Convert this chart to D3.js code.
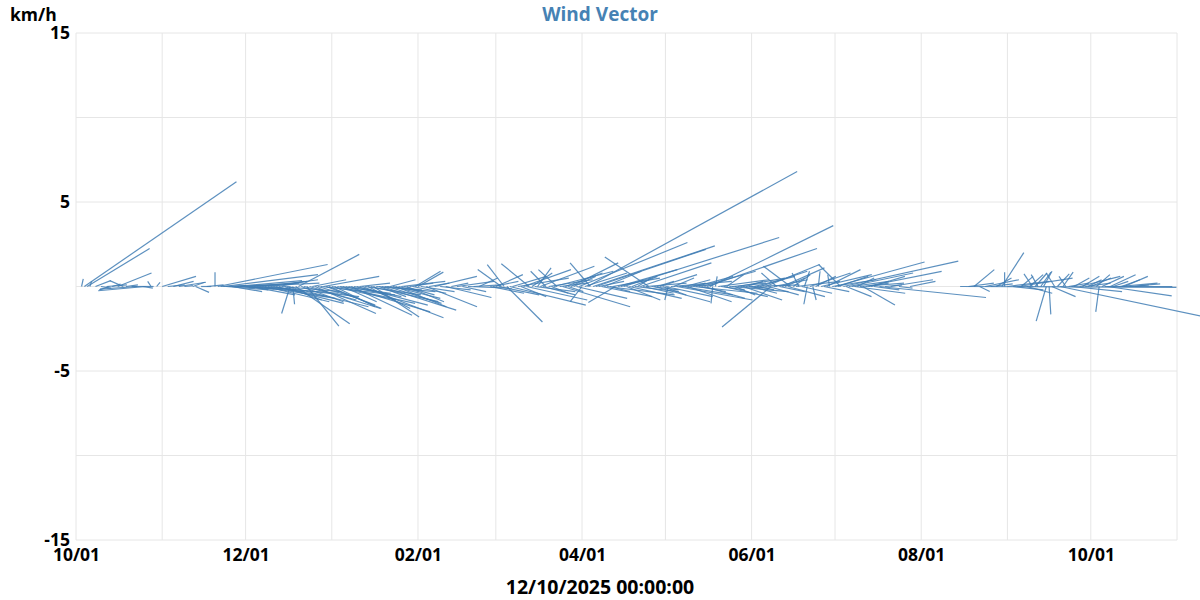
<!DOCTYPE html>
<html><head><meta charset="utf-8">
<script src="https://cdn.jsdelivr.net/npm/d3@7"></script>
<style>
html,body{margin:0;padding:0;background:#fff;}
svg text{font-family:"Open Sans","Noto Sans",sans-serif;font-weight:700;}
</style></head>
<body><svg id="chart" width="1200" height="600"></svg>
<script>
// ---- data ----
const titleText = "Wind Vector";
const unitLabel = "km/h";
const xAxisTitle = "12/10/2025 00:00:00";
const yTickValues = [-15, -10, -5, 0, 5, 10, 15];
const yTickLabels = {"15":"15","5":"5","-5":"-5","-15":"-15"};
const xDomain = ["2024-10-01", "2025-11-01"];
const xLabelFormat = "%m/%d";

const dates = [
"2024-10-03","2024-10-04","2024-10-05","2024-10-06","2024-10-08","2024-10-10","2024-10-12","2024-10-13","2024-10-14","2024-10-16",
"2024-10-18","2024-10-19","2024-10-21","2024-10-23","2024-10-25","2024-10-26","2024-10-28","2024-10-30",
"2024-11-01","2024-11-03","2024-11-05","2024-11-07","2024-11-09","2024-11-12","2024-11-13","2024-11-15","2024-11-17","2024-11-20",
"2024-11-21","2024-11-22","2024-11-23","2024-11-24","2024-11-25","2024-11-26","2024-11-27","2024-11-28","2024-11-29","2024-11-30",
"2024-12-01","2024-12-02","2024-12-03","2024-12-04","2024-12-05","2024-12-06","2024-12-07","2024-12-08","2024-12-09","2024-12-10",
"2024-12-11","2024-12-12","2024-12-13","2024-12-14","2024-12-15","2024-12-16","2024-12-17","2024-12-18","2024-12-19","2024-12-20",
"2024-12-21","2024-12-22","2024-12-23","2024-12-24","2024-12-25","2024-12-26","2024-12-27","2024-12-28","2024-12-29","2024-12-30","2024-12-31",
"2025-01-01","2025-01-02","2025-01-03","2025-01-04","2025-01-05","2025-01-06","2025-01-07","2025-01-08","2025-01-09","2025-01-10",
"2025-01-11","2025-01-12","2025-01-13","2025-01-14","2025-01-15","2025-01-16","2025-01-17","2025-01-18","2025-01-19","2025-01-20",
"2025-01-21","2025-01-22","2025-01-23","2025-01-24","2025-01-25","2025-01-26","2025-01-27","2025-01-28","2025-01-29","2025-01-30","2025-01-31",
"2025-02-01","2025-02-02","2025-02-04","2025-02-05","2025-02-07","2025-02-09","2025-02-11","2025-02-13","2025-02-15","2025-02-17",
"2025-02-19","2025-02-21","2025-02-23","2025-02-27","2025-02-28",
"2025-03-01","2025-03-02","2025-03-03","2025-03-04","2025-03-05","2025-03-06","2025-03-07","2025-03-09","2025-03-10","2025-03-11",
"2025-03-12","2025-03-13","2025-03-14","2025-03-15","2025-03-16","2025-03-17","2025-03-18","2025-03-19","2025-03-20","2025-03-21",
"2025-03-22","2025-03-23","2025-03-24","2025-03-25","2025-03-26","2025-03-27","2025-03-28","2025-03-29","2025-03-30","2025-03-31",
"2025-04-01","2025-04-02","2025-04-03","2025-04-04","2025-04-05","2025-04-06","2025-04-07","2025-04-08","2025-04-09","2025-04-10",
"2025-04-11","2025-04-12","2025-04-13","2025-04-14","2025-04-15","2025-04-16","2025-04-17","2025-04-18","2025-04-19","2025-04-20",
"2025-04-21","2025-04-22","2025-04-23","2025-04-24","2025-04-25","2025-04-26","2025-04-27","2025-04-28","2025-04-29","2025-04-30",
"2025-05-01","2025-05-02","2025-05-03","2025-05-04","2025-05-05","2025-05-06","2025-05-07","2025-05-08","2025-05-09","2025-05-10",
"2025-05-11","2025-05-12","2025-05-13","2025-05-14","2025-05-15","2025-05-16","2025-05-17","2025-05-18","2025-05-19","2025-05-20",
"2025-05-21","2025-05-22","2025-05-23","2025-05-24","2025-05-25","2025-05-26","2025-05-27","2025-05-28","2025-05-29","2025-05-30","2025-05-31",
"2025-06-01","2025-06-02","2025-06-03","2025-06-04","2025-06-06","2025-06-07","2025-06-08","2025-06-09","2025-06-10","2025-06-11",
"2025-06-12","2025-06-13","2025-06-14","2025-06-15","2025-06-16","2025-06-17","2025-06-18","2025-06-19","2025-06-20","2025-06-21",
"2025-06-22","2025-06-23","2025-06-24","2025-06-25","2025-06-26","2025-06-27","2025-06-28","2025-06-29","2025-06-30",
"2025-07-01","2025-07-02","2025-07-03","2025-07-04","2025-07-05","2025-07-06","2025-07-07","2025-07-08","2025-07-09","2025-07-10",
"2025-07-11","2025-07-12","2025-07-13","2025-07-14","2025-07-15","2025-07-17","2025-07-19","2025-07-21","2025-07-24","2025-07-28",
"2025-08-15","2025-08-18","2025-08-20","2025-08-22","2025-08-24","2025-08-26","2025-08-28","2025-08-30","2025-08-31",
"2025-09-01","2025-09-03","2025-09-05","2025-09-06","2025-09-08","2025-09-09","2025-09-10","2025-09-11","2025-09-12","2025-09-13",
"2025-09-14","2025-09-15","2025-09-16","2025-09-17","2025-09-18","2025-09-19","2025-09-20","2025-09-21","2025-09-22","2025-09-23",
"2025-09-24","2025-09-25","2025-09-27","2025-09-28","2025-09-29","2025-09-30",
"2025-10-01","2025-10-03","2025-10-04","2025-10-05","2025-10-06","2025-10-07","2025-10-08","2025-10-09","2025-10-11","2025-10-12",
"2025-10-13","2025-10-15","2025-10-17"
];

// east-west component (km/h)
const windU = [
0.1,9.0,3.7,0.1,0.9,0.6,1.2,-0.6,0.5,2.0,
-0.8,0.7,1.3,-2.2,0.6,-2.8,-0.2,0.2,
2.0,1.0,1.2,1.6,0.5,0.7,0.8,0.6,1.0,0.0,
6.5,1.5,5.6,2.5,3.0,1.8,4.0,2.2,3.5,1.2,
3.5,4.2,2.6,5.0,3.0,4.5,2.0,3.8,5.4,2.8,
3.2,4.0,1.5,3.5,2.2,4.8,-0.5,0.1,3.2,3.6,
2.5,3.1,1.9,4.2,2.0,3.6,2.4,4.4,3.3,2.9,3.1,
3.8,2.4,4.6,3.0,2.0,5.0,1.5,3.6,2.8,4.2,
1.8,4.8,3.3,2.5,4.0,2.7,3.5,1.6,4.4,2.2,
3.2,1.5,2.8,3.0,1.2,2.6,1.8,2.2,1.4,2.0,1.5,
1.5,2.0,3.0,1.2,2.5,1.8,2.7,1.0,2.2,1.4,
2.6,1.6,1.1,2.0,1.5,
1.6,2.4,-1.4,-1.0,2.1,4.5,2.0,3.0,1.5,2.8,
3.6,-1.65,1.2,2.4,0.8,3.2,1.9,-0.9,2.6,1.0,
3.5,-1.1,1.6,4.0,2.2,0.9,2.8,1.3,3.0,6.4,
-0.7,2.5,12.4,-1.2,7.2,6.5,1.5,3.0,2.2,4.0,
1.2,2.8,-1.6,3.5,1.4,9.2,2.0,3.1,1.5,2.6,
0.8,4.2,1.8,2.4,-2.6,1.6,3.3,1.0,2.2,1.4,
2.8,-0.2,3.6,1.2,4.5,2.0,3.0,1.5,2.6,0.9,
3.8,2.2,1.6,3.2,2.4,6.5,7.3,-0.1,0.1,3.0,
1.4,2.6,1.0,3.5,2.0,1.2,2.8,1.7,2.3,1.0,3.0,
1.5,2.4,1.0,2.8,3.2,1.8,-2.9,2.0,-0.9,1.5,
2.5,1.2,2.2,-1.6,1.0,2.6,-0.4,1.8,0.3,-0.2,
2.4,0.2,1.2,0.1,3.0,1.5,2.0,-0.1,2.6,
5.3,1.8,-1.3,6.8,1.5,3.8,2.2,3.0,1.0,2.6,
1.9,4.5,1.2,2.0,1.5,6.3,1.0,2.5,0.8,1.5,
12.8,1.5,1.2,0.6,2.0,1.3,0.9,1.3,0.0,
2.5,1.8,3.2,0.7,1.5,0.8,-0.5,0.7,-0.4,0.6,
0.5,-0.6,0.1,1.4,-0.5,0.7,8.3,0.6,-0.4,1.2,
3.0,0.9,2.4,1.0,1.5,0.8,
1.2,0.8,-0.2,1.3,4.0,3.8,1.5,0.9,2.3,1.1,
1.4,1.8,0.8
];

// north-south component (km/h)
const windV = [
0.45,6.2,2.25,0.3,0.35,-0.1,0.1,-0.2,0.15,0.8,
0.35,0.1,0.0,-0.15,-0.1,-0.25,0.3,0.25,
0.6,0.1,0.3,0.25,0.05,0.25,-0.35,0.0,0.1,0.85,
1.3,0.05,0.7,-0.2,0.1,-0.3,0.35,-0.15,0.2,-0.1,
-0.3,0.2,-0.5,-0.4,0.3,-0.7,-0.2,-0.9,-0.6,0.4,
-0.6,-1.0,0.3,-0.3,-0.8,-1.2,-1.6,-1.05,-2.2,1.9,
-0.9,-0.8,-2.35,-1.3,0.4,-1.6,-0.7,-0.5,0.6,-1.1,-1.3,
-0.8,-1.2,-1.0,-0.4,-0.9,-1.5,-0.3,-1.7,-0.6,-1.1,
0.2,-1.85,-0.5,-1.3,-0.9,-1.8,-0.3,-0.6,-1.4,-0.2,
-1.0,0.4,-0.7,-1.2,-0.3,0.3,-0.5,-0.9,0.2,-0.4,0.9,
0.85,-0.3,-1.2,0.2,0.6,-0.2,-0.65,0.2,0.3,-0.3,
-0.1,0.1,0.5,-0.4,0.3,
0.7,-0.5,1.0,1.3,-2.1,-1.1,0.6,0.5,-0.6,1.0,
-0.8,1.35,0.8,-0.3,1.1,1.2,-0.5,0.9,0.4,-0.4,
0.9,1.0,0.2,-1.2,0.8,-0.3,1.4,0.6,-0.7,2.6,
-0.9,0.8,6.8,1.4,2.4,2.2,0.3,-0.6,0.9,-0.5,
-0.3,0.5,-0.95,1.0,0.4,2.9,-0.8,-0.7,0.6,-0.3,
0.5,1.4,-0.4,0.2,1.75,-0.2,-0.9,0.3,0.7,-0.5,
-0.6,-0.8,0.3,0.5,-0.8,0.1,-0.5,0.4,-0.9,0.2,
-0.4,0.6,-0.3,0.9,-0.7,2.25,3.6,-1.0,0.6,0.4,
-0.2,-0.6,0.7,-0.3,0.2,-0.5,0.5,-0.1,-0.8,0.3,0.1,
-0.4,0.6,-0.2,0.9,1.3,-0.5,-2.4,0.4,0.8,-0.3,
1.1,0.5,-0.6,1.2,0.7,0.3,0.8,-0.4,0.9,-1.05,
0.8,-0.8,0.6,0.9,0.7,-0.3,1.0,0.7,0.4,
1.45,0.6,1.3,1.5,-0.6,0.8,0.3,-0.4,0.5,0.2,
-1.1,0.9,0.2,0.6,-0.2,-0.65,0.1,0.4,-0.1,0.3,
-0.05,0.2,1.0,-0.3,0.4,0.15,0.5,2.0,0.85,
0.3,-0.2,0.5,0.6,-0.4,0.7,0.75,0.8,0.7,0.85,
0.9,-2.05,-1.65,-0.6,0.8,0.75,-1.75,0.85,0.6,0.2,
-0.3,0.5,0.6,0.6,0.2,0.4,
0.5,0.7,-1.5,0.6,0.0,-0.55,0.7,0.3,0.2,0.4,
0.6,0.15,0.1
];

// ---- layout ----
const W = 1200, H = 600;
const margin = {left: 76, right: 23, top: 33, bottom: 60};
const svg = d3.select("#chart");

const parse = d3.utcParse("%Y-%m-%d");
const x = d3.scaleUtc()
  .domain(xDomain.map(parse))
  .range([margin.left, W - margin.right]);
const y = d3.scaleLinear()
  .domain([-15, 15])
  .range([H - margin.bottom, margin.top]);

const pxPerUnit = y(0) - y(1);

// grid
const gridColor = "#e6e6e6";
svg.append("g")
  .selectAll("line.hg")
  .data(yTickValues)
  .join("line")
  .attr("x1", x.range()[0]).attr("x2", x.range()[1])
  .attr("y1", d => y(d)).attr("y2", d => y(d))
  .attr("stroke", gridColor).attr("stroke-width", 1);

const monthTicks = d3.utcMonth.range(x.domain()[0], d3.utcMonth.offset(x.domain()[1], 1));
svg.append("g")
  .selectAll("line.vg")
  .data(monthTicks)
  .join("line")
  .attr("x1", d => x(d)).attr("x2", d => x(d))
  .attr("y1", y.range()[0]).attr("y2", y.range()[1])
  .attr("stroke", gridColor).attr("stroke-width", 1);

// vectors
const vectors = dates.map((d, i) => ({t: parse(d), u: windU[i], v: windV[i]}));
svg.append("g")
  .selectAll("line")
  .data(vectors)
  .join("line")
  .attr("x1", d => x(d.t))
  .attr("y1", y(0))
  .attr("x2", d => x(d.t) + d.u * pxPerUnit)
  .attr("y2", d => y(d.v))
  .attr("stroke", "#3f7db4")
  .attr("stroke-opacity", 0.85)
  .attr("stroke-width", 1.2);

// y axis labels
const yAxis = d3.axisLeft(y)
  .tickValues(Object.keys(yTickLabels).map(Number))
  .tickFormat(d => yTickLabels[String(d)])
  .tickSize(0).tickPadding(6);
const gy = svg.append("g").attr("transform", `translate(${margin.left},0)`).call(yAxis);
gy.select(".domain").remove();
gy.selectAll("text").attr("font-size", 17.5).attr("fill", "#000")
  .attr("font-family", "'Open Sans', sans-serif").attr("font-weight", 700);

// x axis labels
const labelTicks = monthTicks.filter(d => d.getUTCMonth() % 2 === 1 && d <= x.domain()[1]);
const xAxis = d3.axisBottom(x)
  .tickValues(labelTicks)
  .tickFormat(d3.utcFormat(xLabelFormat))
  .tickSize(0).tickPadding(9);
const gx = svg.append("g").attr("transform", `translate(0,${y.range()[0]})`).call(xAxis);
gx.select(".domain").remove();
gx.selectAll("text").attr("font-size", 17.5).attr("fill", "#000")
  .attr("font-family", "'Open Sans', sans-serif").attr("font-weight", 700);

// titles
svg.append("text")
  .attr("x", W / 2).attr("y", 21)
  .attr("text-anchor", "middle")
  .attr("font-size", 19).attr("fill", "#4682b4")
  .text(titleText);
svg.append("text")
  .attr("x", 10).attr("y", 21)
  .attr("font-size", 17.5).attr("fill", "#000")
  .text(unitLabel);
svg.append("text")
  .attr("x", W / 2).attr("y", 594)
  .attr("text-anchor", "middle")
  .attr("font-size", 19.5).attr("fill", "#000")
  .text(xAxisTitle);
</script></body></html>
